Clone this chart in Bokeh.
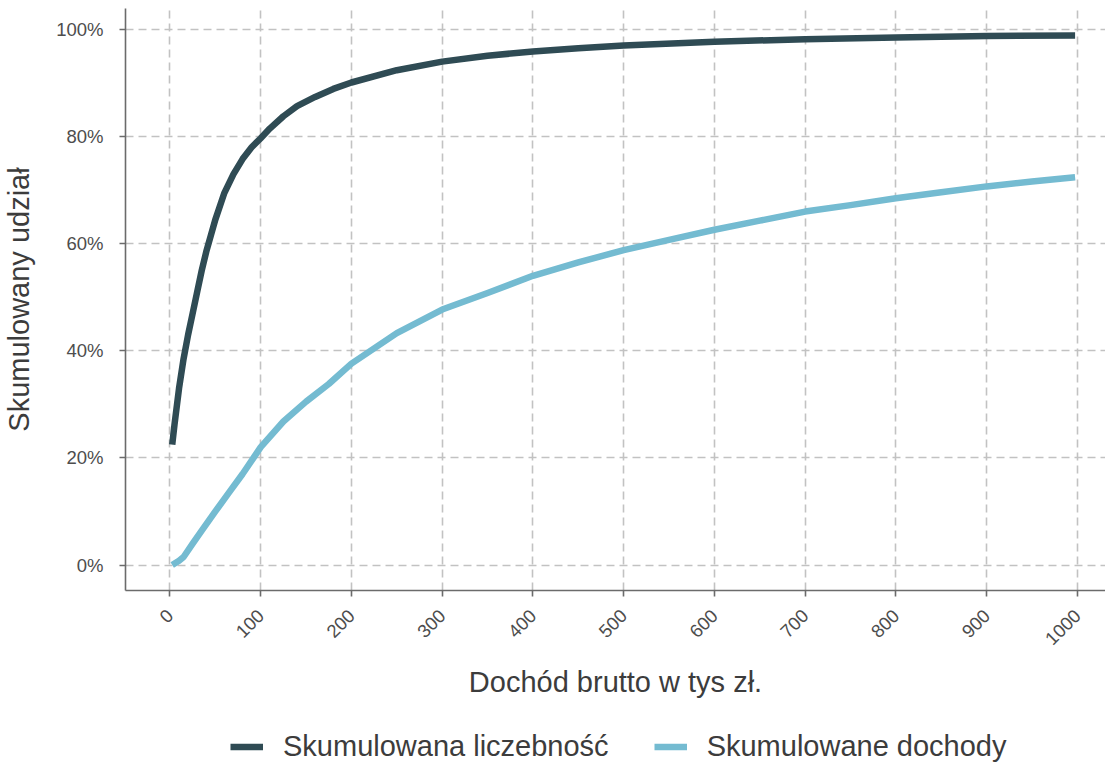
import math
from bokeh.plotting import figure
from bokeh.layouts import column
from bokeh.models import Range1d, NumeralTickFormatter, FixedTicker, Legend, LegendItem
from bokeh.embed import file_html
from bokeh.resources import INLINE

# ---- data ----
count_x = [2.5, 5, 10, 15, 20, 25, 30, 35, 40, 45, 50, 60, 70, 80, 90, 100, 110, 125,
           140, 160, 180, 200, 250, 300, 350, 400, 450, 500, 600, 700, 800, 900, 997.5]
count_y = [0.225, 0.262, 0.33, 0.385, 0.43, 0.47, 0.51, 0.55, 0.585, 0.615, 0.645,
           0.695, 0.73, 0.758, 0.78, 0.797, 0.815, 0.838, 0.857, 0.874, 0.889, 0.901,
           0.924, 0.94, 0.951, 0.959, 0.965, 0.970, 0.977, 0.982, 0.985, 0.988, 0.989]

income_x = [2.5, 10, 15, 25, 35, 50, 65, 80, 100, 125, 150, 175, 200, 250, 300, 350,
            400, 450, 500, 550, 600, 650, 700, 750, 800, 850, 900, 950, 997.5]
income_y = [0.0, 0.008, 0.015, 0.04, 0.064, 0.10, 0.135, 0.17, 0.22, 0.268, 0.305,
            0.338, 0.376, 0.433, 0.477, 0.508, 0.54, 0.565, 0.588, 0.607, 0.626,
            0.643, 0.66, 0.672, 0.685, 0.696, 0.707, 0.716, 0.724]

series_labels = ["Skumulowana liczebność", "Skumulowane dochody"]
x_ticks = [0, 100, 200, 300, 400, 500, 600, 700, 800, 900, 1000]
y_ticks = [0.0, 0.2, 0.4, 0.6, 0.8, 1.0]
x_title = "Dochód brutto w tys zł."
y_title = "Skumulowany udział"

DARK = "#2F4B54"
LIGHT = "#74BBD1"
FONT = "Liberation Sans"

p = figure(frame_width=980, frame_height=582,
           x_range=Range1d(-49, 1031), y_range=Range1d(-0.0476, 1.0392),
           output_backend="svg", toolbar_location=None,
           min_border_left=116, min_border_right=0, min_border_top=8,
           min_border_bottom=136)
p.outline_line_color = None
p.background_fill_color = "white"

p.line(count_x, count_y, line_color=DARK, line_width=6.5, line_join="round")
p.line(income_x, income_y, line_color=LIGHT, line_width=6.5, line_join="round")

for g in (p.xgrid, p.ygrid):
    g.grid_line_color = "#C2C2C2"
    g.grid_line_width = 1.6
    g.grid_line_dash = "8 5"

p.xaxis.ticker = FixedTicker(ticks=x_ticks)
p.yaxis.ticker = FixedTicker(ticks=y_ticks)
p.yaxis.formatter = NumeralTickFormatter(format="0%")
p.xaxis.major_label_orientation = math.pi / 4

for ax in (p.xaxis, p.yaxis):
    ax.axis_line_color = "#6B6B6B"
    ax.axis_line_width = 1.6
    ax.major_tick_line_color = "#6B6B6B"
    ax.major_tick_line_width = 1.6
    ax.major_tick_out = 6
    ax.major_tick_in = 0
    ax.minor_tick_line_color = None
    ax.major_label_text_font = FONT
    ax.major_label_text_font_size = "18.5px"
    ax.major_label_text_color = "#4D4D4D"
    ax.axis_label_text_font = FONT
    ax.axis_label_text_font_size = "29px"
    ax.axis_label_text_font_style = "normal"
    ax.axis_label_text_color = "#3C3C3C"

p.xaxis.axis_label = x_title
p.yaxis.axis_label = y_title
p.xaxis.major_label_standoff = 16
p.xaxis.axis_label_standoff = 12
p.yaxis.major_label_standoff = 16
p.yaxis.axis_label_standoff = 18

# ---- legend strip below the chart (its lines fall outside its ranges) ----
lg = figure(frame_width=1096, frame_height=40,
            x_range=Range1d(-3000, -2000), y_range=Range1d(-3000, -2000),
            x_axis_type=None, y_axis_type=None,
            output_backend="svg", toolbar_location=None,
            min_border_left=0, min_border_right=0, min_border_top=0,
            min_border_bottom=0)
lg.outline_line_color = None
lg.xgrid.visible = False
lg.ygrid.visible = False
k1 = lg.line(count_x, count_y, line_color=DARK, line_width=6.5)
k2 = lg.line(income_x, income_y, line_color=LIGHT, line_width=6.5)

legend = Legend(items=[LegendItem(label=series_labels[0], renderers=[k1]),
                       LegendItem(label=series_labels[1], renderers=[k2])],
                orientation="horizontal", location="center_left",
                glyph_width=33, glyph_height=20, label_standoff=20, spacing=45,
                label_text_font=FONT, label_text_font_size="29px",
                label_text_color="#3C3C3C",
                border_line_color=None, background_fill_alpha=0,
                padding=0, margin=230)
lg.add_layout(legend, "center")

layout = column(p, lg, spacing=0)
open("out.html", "w").write(file_html(layout, INLINE))
